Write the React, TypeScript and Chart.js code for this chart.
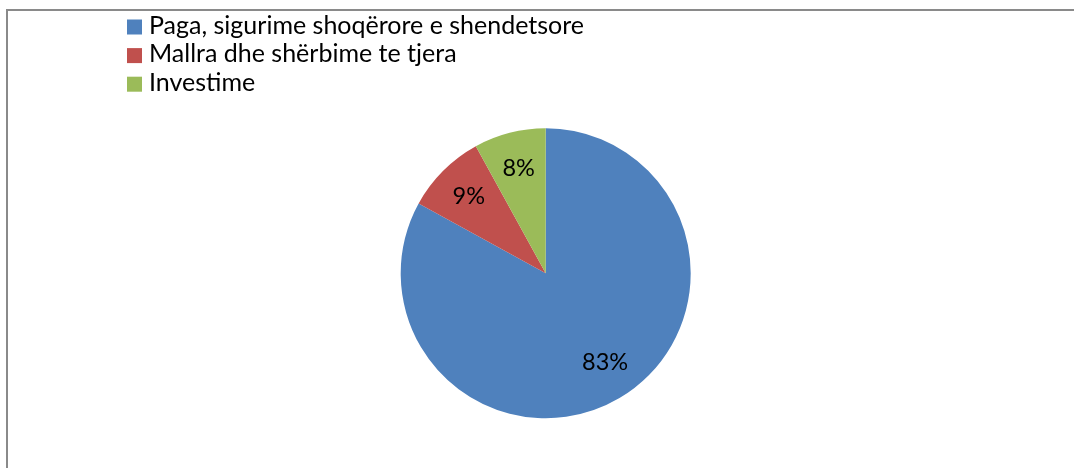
import React, { useEffect, useRef } from "react";
import { Chart, registerables } from "chart.js";

Chart.register(...registerables);

const categories = [
  "Paga, sigurime shoqërore e shendetsore",
  "Mallra dhe shërbime te tjera",
  "Investime",
];
const values = [83, 9, 8];
const colors = ["#4F81BD", "#C0504D", "#9BBB59"];

const FONT = "Lato";

const customLegend = {
  id: "customLegend",
  afterDraw(chart: any) {
    const ctx = chart.ctx;
    const labels: string[] = chart.data.labels;
    const bg: string[] = chart.data.datasets[0].backgroundColor;
    ctx.save();
    ctx.font = `25px ${FONT}`;
    ctx.textBaseline = "alphabetic";
    ctx.textAlign = "left";
    labels.forEach((lab, i) => {
      const y0 = 19.5 + i * 28.6;
      ctx.fillStyle = bg[i];
      ctx.fillRect(127, y0, 15, 15);
      ctx.fillStyle = "#000";
      ctx.fillText(lab, 149, y0 + 14);
    });
    ctx.restore();
  },
};

const sliceLabels = {
  id: "sliceLabels",
  afterDatasetsDraw(chart: any) {
    const ctx = chart.ctx;
    const meta = chart.getDatasetMeta(0);
    const data: number[] = chart.data.datasets[0].data;
    const total = data.reduce((a, b) => a + b, 0);
    ctx.save();
    ctx.font = `23.5px ${FONT}`;
    ctx.fillStyle = "#000";
    ctx.textAlign = "center";
    ctx.textBaseline = "middle";
    meta.data.forEach((arc: any, i: number) => {
      const mid = (arc.startAngle + arc.endAngle) / 2;
      const r = arc.outerRadius * 0.75;
      const x = arc.x + Math.cos(mid) * r;
      const y = arc.y + Math.sin(mid) * r;
      ctx.fillText(Math.round((data[i] / total) * 100) + "%", x + (i === 0 ? 4 : 0), y - (i === 0 ? 4 : 0));
    });
    ctx.restore();
  },
};

export default function App() {
  const ref = useRef<HTMLCanvasElement | null>(null);
  useEffect(() => {
    if (!ref.current) return;
    const chart = new Chart(ref.current, {
      type: "pie",
      data: {
        labels: categories,
        datasets: [
          {
            data: values,
            backgroundColor: colors,
            borderWidth: 0,
          },
        ],
      },
      options: {
        animation: false,
        responsive: false,
        layout: {
          padding: { left: 400.7, right: 383.3, top: 128.3, bottom: 49.7 },
        },
        plugins: {
          legend: { display: false },
          tooltip: { enabled: false },
        },
      },
      plugins: [customLegend, sliceLabels],
    });
    return () => chart.destroy();
  }, []);
  return (
    <div
      style={{
        position: "fixed",
        left: 0,
        top: 0,
        width: 1074,
        height: 468,
        background: "#fff",
        overflow: "hidden",
      }}
    >
      <div
        style={{
          position: "absolute",
          left: 6,
          top: 9,
          width: 2000,
          height: 2000,
          border: "2px solid #8a8a8a",
          boxSizing: "border-box",
        }}
      />
      <canvas
        ref={ref}
        width={1074}
        height={468}
        style={{ position: "absolute", left: 0, top: 0 }}
      />
    </div>
  );
}
